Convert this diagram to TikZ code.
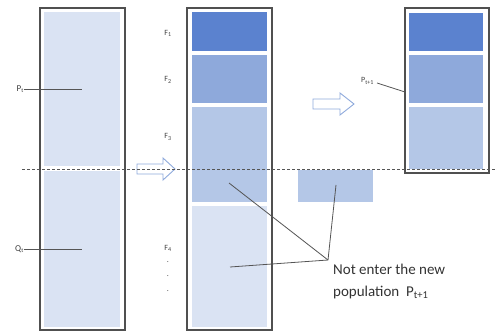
\documentclass[tikz,border=0pt]{standalone}
\usepackage{fontspec}
\setmainfont{Carlito}
\usetikzlibrary{calc}
\definecolor{cA}{HTML}{5B82CF}
\definecolor{cB}{HTML}{8EA9DB}
\definecolor{cC}{HTML}{B4C7E7}
\definecolor{cD}{HTML}{DAE3F3}
\definecolor{cArrow}{HTML}{8FAADC}
\definecolor{cLine}{HTML}{555555}
\definecolor{cBox}{HTML}{505050}
\tikzset{
  outerbox/.style={draw=cBox, line width=1.2pt, fill=white, anchor=north west, inner sep=0pt, outer sep=0pt},
  fillbox/.style={fill=#1, draw=none, anchor=north west, inner sep=0pt, outer sep=0pt},
  lbl/.style={font=\fontsize{9}{10}\selectfont, text=black!75, inner sep=0pt},
  pointer/.style={draw=cLine, line width=0.8pt},
  hollowarrow/.style={draw=cArrow, line width=0.9pt, fill=white, line join=miter},
  sep/.style={draw=cLine, line width=0.8pt, dash pattern=on 3pt off 2pt},
}
\begin{document}
\begin{tikzpicture}[x=1pt,y=-1pt]
\useasboundingbox (0,0) rectangle (497,331);
% left box
\node[outerbox, minimum width=85pt, minimum height=322pt] (L) at (40,8) {};
\node[fillbox=cD, minimum width=76pt, minimum height=154pt] (Pt) at (44,12) {};
\node[fillbox=cD, minimum width=76pt, minimum height=156pt] (Qt) at (44,171) {};
% middle box
\node[outerbox, minimum width=85pt, minimum height=322pt] (M) at (187,8) {};
\node[fillbox=cA, minimum width=75pt, minimum height=39pt] (F1) at (192,12) {};
\node[fillbox=cB, minimum width=75pt, minimum height=48pt] (F2) at (192,55) {};
\node[fillbox=cC, minimum width=75pt, minimum height=95pt] (F3) at (192,107) {};
\node[fillbox=cD, minimum width=75pt, minimum height=121pt] (F4) at (192,206) {};
% right box
\node[outerbox, minimum width=84pt, minimum height=165pt] (R) at (405,8) {};
\node[fillbox=cA, minimum width=74pt, minimum height=38pt] (R1) at (409,13) {};
\node[fillbox=cB, minimum width=74pt, minimum height=48pt] (R2) at (409,55) {};
\node[fillbox=cC, minimum width=74pt, minimum height=62pt] (R3) at (409,107) {};
% rejected part
\node[fillbox=cC, minimum width=75pt, minimum height=32pt] (Rej) at (298,170) {};
% arrows
\draw[hollowarrow] (137,164) -- (163,164) -- (163,158) -- (175,169) -- (163,180) -- (163,174) -- (137,174) -- cycle;
\draw[hollowarrow] (313,99) -- (340,99) -- (340,93) -- (354,104) -- (340,115) -- (340,109) -- (313,109) -- cycle;
% dashed separator
\coordinate (dL) at (22,169);
\coordinate (dR) at (497,169);
\draw[sep] (dL) -- (dR);
% labels
\node[lbl, anchor=east] (lPt) at (24,89) {P\textsubscript{t}};
\node[lbl, anchor=east] (lQt) at (24,249) {Q\textsubscript{t}};
\coordinate (pPt) at (82,89);
\coordinate (pQt) at (82,249);
\draw[pointer] (lPt.east) -- (pPt);
\draw[pointer] (lQt.east) -- (pQt);
\node[lbl, font=\fontsize{8}{9}\selectfont] (lF1) at (168,33) {F\textsubscript{1}};
\node[lbl, font=\fontsize{8}{9}\selectfont] (lF2) at (168,80) {F\textsubscript{2}};
\node[lbl, font=\fontsize{8}{9}\selectfont] (lF3) at (168,137) {F\textsubscript{3}};
\node[lbl, font=\fontsize{8}{9}\selectfont] (lF4) at (168,248) {F\textsubscript{4}};
\node[lbl, font=\fontsize{8}{9}\selectfont] (d1) at (168,262) {.};
\node[lbl, font=\fontsize{8}{9}\selectfont] (d2) at (168,276) {.};
\node[lbl, font=\fontsize{8}{9}\selectfont] (d3) at (168,291) {.};
\node[lbl, font=\fontsize{8}{9}\selectfont, anchor=east] (lP1) at (374,81) {P\textsubscript{t+1}};
\coordinate (pP1) at (405,92);
\draw[pointer] (lP1.east) ++(3,2) -- (pP1);
% note
\node[lbl, font=\fontsize{15}{22}\selectfont, align=left, anchor=north west, text=black!80] (note) at (333,264) {Not enter the new\\population\ \ P\textsubscript{t+1}};
\coordinate (J) at (328,260);
\coordinate (pF3) at (229,183);
\coordinate (pF4) at (230,267);
\coordinate (pRej) at (336,185);
\draw[pointer] (pF3) -- (J);
\draw[pointer] (pF4) -- (J);
\draw[pointer] (pRej) -- (J);
\end{tikzpicture}
\end{document}
